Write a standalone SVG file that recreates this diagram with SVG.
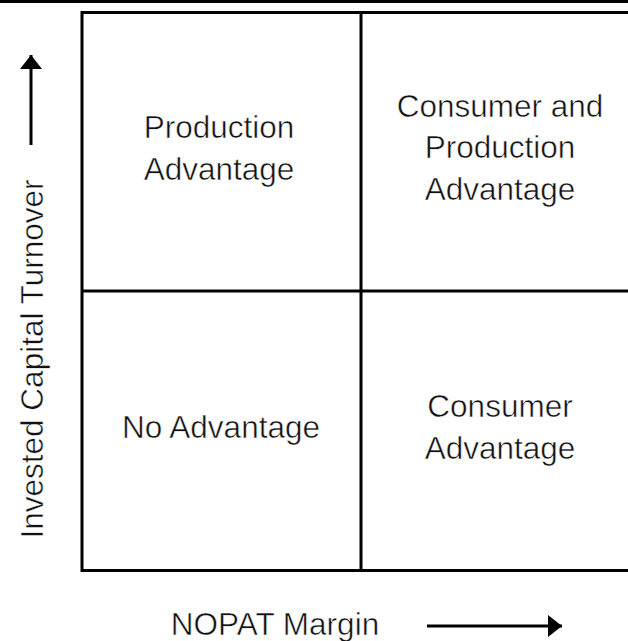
<svg xmlns="http://www.w3.org/2000/svg" width="628" height="641" viewBox="0 0 628 641">
<style>
.t{font-family:"Liberation Sans",Arial,sans-serif;font-size:31.5px;fill:#111;text-anchor:middle;stroke:#fff;stroke-width:0.5px}
.ln{stroke:#000;stroke-width:3;fill:none}
.ax{stroke:#000;stroke-width:3;fill:none}
</style>
<defs>
<marker id="ah" viewBox="0 0 14 22" refX="14" refY="11" markerWidth="14" markerHeight="22" markerUnits="userSpaceOnUse" orient="auto">
<path d="M0,0 L14,11 L0,22 Z" fill="#000"/>
</marker>
</defs>
<rect width="628" height="641" fill="#fff"/>
<line x1="0" y1="1.5" x2="628" y2="1.5" class="ln"/>
<g id="grid">
<rect x="82" y="12.5" width="560" height="558" class="ln"/>
<line x1="361" y1="12.5" x2="361" y2="570.5" class="ln"/>
<line x1="82" y1="291" x2="642" y2="291" class="ln"/>
</g>
<g id="production-advantage">
<text class="t" x="219" y="138">Production</text>
<text class="t" x="219" y="180">Advantage</text>
</g>
<g id="consumer-production-advantage">
<text class="t" x="500" y="117">Consumer and</text>
<text class="t" x="500" y="158">Production</text>
<text class="t" x="500" y="200">Advantage</text>
</g>
<g id="no-advantage">
<text class="t" x="221" y="438">No Advantage</text>
</g>
<g id="consumer-advantage">
<text class="t" x="500" y="417">Consumer</text>
<text class="t" x="500" y="459">Advantage</text>
</g>
<g id="y-axis">
<text class="t" transform="translate(43,359) rotate(-90)">Invested Capital Turnover</text>
</g>
<g id="x-axis">
<text class="t" x="275" y="635">NOPAT Margin</text>
</g>
<g id="connectors">
<line x1="31" y1="145" x2="31" y2="55" class="ax" marker-end="url(#ah)"/>
<line x1="427" y1="626" x2="562" y2="626" class="ax" marker-end="url(#ah)"/>
</g>
</svg>
